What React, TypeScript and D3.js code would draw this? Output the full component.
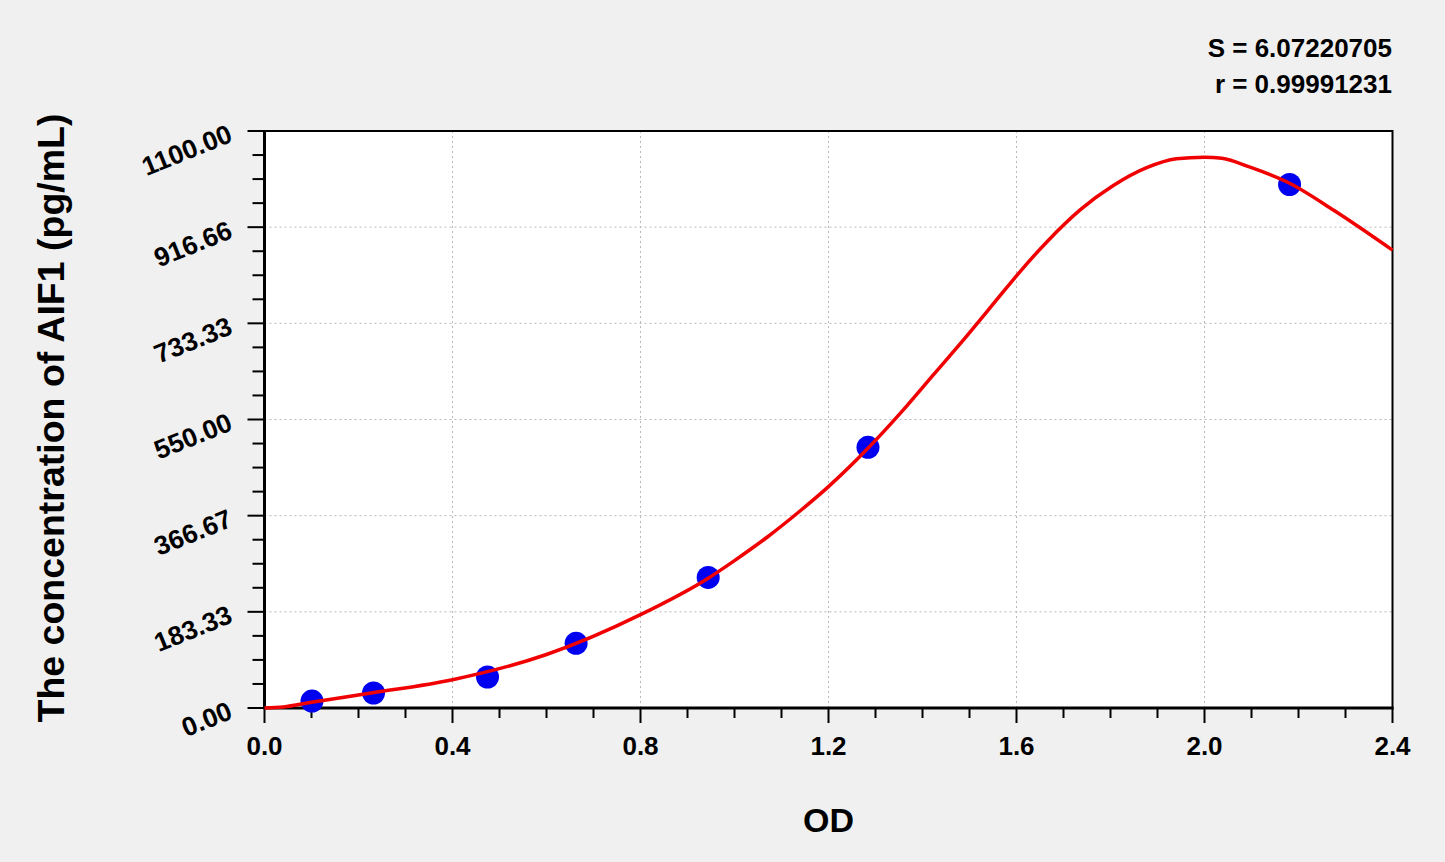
import React, { useEffect, useRef } from 'react';
import * as d3 from 'd3';

// standard points (OD, concentration)
const pointOD = [0.101, 0.232, 0.4745, 0.663, 0.944, 1.284, 2.181];
const pointConc = [13.3, 28.6, 59.1, 123.4, 249, 497, 998];

// fitted curve
const curveOD = [0, 0.04, 0.1, 0.23, 0.4, 0.6, 0.8, 0.945, 1.0, 1.07, 1.14, 1.2, 1.285, 1.353, 1.423, 1.494, 1.565, 1.6, 1.665, 1.736, 1.806, 1.877, 1.94, 2.0, 2.037, 2.097, 2.182, 2.275, 2.4];
const curveConc = [0, 2, 11, 29, 54, 102, 178, 248, 281, 326, 376, 422, 496, 562, 635, 709, 786, 824, 889, 950, 996, 1030, 1047, 1050, 1048, 1031, 1000, 949, 873];

const yTicks = [0, 183.33, 366.67, 550, 733.33, 916.66, 1100];
const yTickLabels = ['0.00', '183.33', '366.67', '550.00', '733.33', '916.66', '1100.00'];
const xTicks = [0, 0.4, 0.8, 1.2, 1.6, 2.0, 2.4];
const xTickLabels = ['0.0', '0.4', '0.8', '1.2', '1.6', '2.0', '2.4'];

const statLines = ['S = 6.07220705', 'r = 0.99991231'];
const xTitle = 'OD';
const yTitle = 'The concentration of AIF1 (pg/mL)';

const FONT = '"Liberation Sans", Arial, sans-serif';

export default function App() {
  const svgRef = useRef<SVGSVGElement>(null);

  useEffect(() => {
    if (!svgRef.current) return;
    const svg = d3.select(svgRef.current);
    svg.selectAll('*').remove();

    const width = 1445;
    const height = 862;
    const left = 264.5, right = 1392.5, top = 131, bottom = 708;

    const x = d3.scaleLinear().domain([0, 2.4]).range([left, right]);
    const y = d3.scaleLinear().domain([0, 1100]).range([bottom, top]);

    svg.append('rect').attr('width', width).attr('height', height).attr('fill', '#f0f0f0');
    svg.append('rect')
      .attr('x', left).attr('y', top)
      .attr('width', right - left).attr('height', bottom - top)
      .attr('fill', '#ffffff');

    // dotted grid
    const grid = svg.append('g').attr('stroke', '#b8b8b8').attr('stroke-width', 1).attr('stroke-dasharray', '2,3');
    xTicks.slice(1, -1).forEach(v => {
      grid.append('line').attr('x1', x(v)).attr('x2', x(v)).attr('y1', top).attr('y2', bottom);
    });
    yTicks.slice(1, -1).forEach(v => {
      grid.append('line').attr('x1', left).attr('x2', right).attr('y1', y(v)).attr('y2', y(v));
    });

    // minor + major ticks
    const ticks = svg.append('g').attr('stroke', '#000').attr('stroke-width', 2);
    d3.range(0, 25).forEach(i => {
      const v = i * 0.1;
      const major = i % 4 === 0;
      ticks.append('line')
        .attr('x1', x(v)).attr('x2', x(v))
        .attr('y1', bottom).attr('y2', bottom + (major ? 15 : 10));
    });
    d3.range(0, 25).forEach(i => {
      const v = (i * 1100) / 24;
      const major = i % 4 === 0;
      ticks.append('line')
        .attr('x1', left - (major ? 17 : 12)).attr('x2', left)
        .attr('y1', y(v)).attr('y2', y(v));
    });

    // frame
    svg.append('rect')
      .attr('x', left).attr('y', top)
      .attr('width', right - left).attr('height', bottom - top)
      .attr('fill', 'none').attr('stroke', '#000').attr('stroke-width', 2);
    svg.append('line').attr('x1', left).attr('x2', left).attr('y1', top - 1).attr('y2', bottom + 1)
      .attr('stroke', '#000').attr('stroke-width', 3);
    svg.append('line').attr('x1', left - 1).attr('x2', right + 1).attr('y1', bottom).attr('y2', bottom)
      .attr('stroke', '#000').attr('stroke-width', 3);

    // tick labels
    svg.append('g').selectAll('text')
      .data(xTicks)
      .enter().append('text')
      .attr('x', d => x(d))
      .attr('y', 755)
      .attr('text-anchor', 'middle')
      .style('font-family', FONT).style('font-weight', 'bold').style('font-size', '26px')
      .text((d, i) => xTickLabels[i]);

    svg.append('g').selectAll('text')
      .data(yTicks)
      .enter().append('text')
      .attr('transform', d => `translate(234,${y(d) + 10}) rotate(-22)`)
      .attr('text-anchor', 'end')
      .style('font-family', FONT).style('font-weight', 'bold').style('font-size', '26.5px')
      .text((d, i) => yTickLabels[i]);

    // titles
    svg.append('text')
      .attr('x', (left + right) / 2).attr('y', 832)
      .attr('text-anchor', 'middle')
      .style('font-family', FONT).style('font-weight', 'bold').style('font-size', '34px')
      .text(xTitle);

    svg.append('text')
      .attr('transform', `translate(64,${(113 + 723) / 2}) rotate(-90)`)
      .attr('text-anchor', 'middle')
      .style('font-family', FONT).style('font-weight', 'bold').style('font-size', '37.5px')
      .text(yTitle);

    statLines.forEach((s, i) => {
      svg.append('text')
        .attr('x', 1392).attr('y', 57 + i * 36)
        .attr('text-anchor', 'end')
        .style('font-family', FONT).style('font-weight', 'bold').style('font-size', '26px')
        .text(s);
    });

    // curve
    const curve = curveOD.map((d, i) => [d, curveConc[i]] as [number, number]);
    const line = d3.line<[number, number]>()
      .x(d => x(d[0]))
      .y(d => y(d[1]))
      .curve(d3.curveMonotoneX);

    // points
    svg.append('g').selectAll('circle')
      .data(pointOD)
      .enter().append('circle')
      .attr('cx', d => x(d))
      .attr('cy', (d, i) => y(pointConc[i]))
      .attr('r', 11.5)
      .attr('fill', '#0000f0');

    svg.append('path')
      .datum(curve)
      .attr('fill', 'none')
      .attr('stroke', '#f00000')
      .attr('stroke-width', 3.5)
      .attr('stroke-linejoin', 'round')
      .attr('d', line);
  }, []);

  return (
    <div style={{ position: 'absolute', left: 0, top: 0 }}>
      <svg ref={svgRef} width={1445} height={862} style={{ display: 'block' }} />
    </div>
  );
}
